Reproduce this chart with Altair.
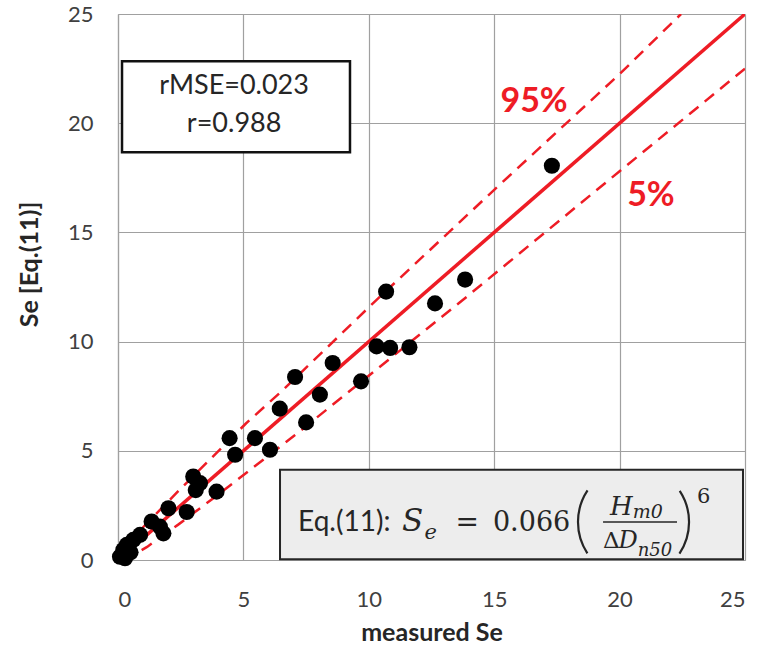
import altair as alt
import pandas as pd

# ---- data ----
measured = [17.3, 13.84, 12.64, 10.69, 10.31, 10.85, 11.62, 9.69, 8.56, 7.06, 8.05, 6.45,
            7.5, 6.06, 5.46, 4.45, 4.67, 3.0, 3.27, 3.93, 3.1, 2.74, 2.01, 1.34, 1.67,
            1.81, 0.88, 0.61, 0.35, 0.21, 0.08, 0.28, 0.5]
predicted = [18.05, 12.84, 11.75, 12.29, 9.78, 9.71, 9.74, 8.18, 9.02, 8.38, 7.57, 6.93,
             6.3, 5.05, 5.58, 5.58, 4.82, 3.82, 3.52, 3.13, 3.2, 2.2, 2.37, 1.76, 1.53,
             1.22, 1.15, 0.92, 0.69, 0.46, 0.15, 0.08, 0.35]

line_x = [0, 25]
line_y = [0, 25]
upper_x = [0, 0.3, 1.0, 2.4, 5.1, 6.5, 10.3, 15.0, 20.0, 22.45]
upper_y = [0, 0.55, 1.5, 3.15, 6.25, 7.7, 11.9, 16.95, 22.25, 25.0]
lower_x = [0.25, 0.6, 1.16, 2.4, 4.0, 7.06, 13.9, 20.0, 25.0]
lower_y = [0.0, 0.22, 0.6, 1.62, 3.0, 5.72, 12.05, 17.8, 22.5]

ticks = [0, 5, 10, 15, 20, 25]

RED = "#EE1C25"
FONT = "Lato"
MATH = "DejaVu Serif"
GRID = "#A0A0A0"
INK = "#262626"

xs = alt.Scale(domain=[0, 25], nice=False)
ys = alt.Scale(domain=[0, 25], nice=False)

x_axis = alt.Axis(
    values=ticks, title="measured Se", grid=True, gridColor=GRID, gridWidth=1.2,
    domainColor=GRID, domainWidth=1.2, ticks=False, labelFont=FONT, labelFontSize=22,
    labelColor="#404040", labelPadding=29, titleFont=FONT, titleFontSize=25,
    titleFontWeight="bold", titleColor=INK, titleY=72, titleBaseline="middle")
y_axis = alt.Axis(
    values=ticks, title="Se [Eq.(11)]", grid=True, gridColor=GRID, gridWidth=1.2,
    domainColor=GRID, domainWidth=1.2, ticks=False, labelFont=FONT, labelFontSize=22,
    labelColor="#404040", labelPadding=25, titleFont=FONT, titleFontSize=25,
    titleFontWeight="bold", titleColor=INK, titleX=-89, titleY=250,
    titleAngle=270, titleAlign="center", titleBaseline="middle")


def X(field="x"):
    return alt.X(f"{field}:Q", scale=xs, axis=x_axis)


def Y(field="y"):
    return alt.Y(f"{field}:Q", scale=ys, axis=y_axis)


# boxes
box1 = alt.Chart(pd.DataFrame({"x": [0.16], "x2": [9.25], "y": [18.67], "y2": [22.84]})).mark_rect(
    fill="white", stroke="#111111", strokeWidth=2.5).encode(x=X(), x2="x2:Q", y=Y(), y2="y2:Q")
box2 = alt.Chart(pd.DataFrame({"x": [6.46], "x2": [24.92], "y": [0.03], "y2": [4.13]})).mark_rect(
    fill="#EDEDED", stroke=INK, strokeWidth=2).encode(x=X(), x2="x2:Q", y=Y(), y2="y2:Q")

# lines
one = alt.Chart(pd.DataFrame({"x": line_x, "y": line_y})).mark_line(
    color=RED, strokeWidth=3.5, clip=True).encode(x=X(), y=Y())
up = alt.Chart(pd.DataFrame({"x": upper_x, "y": upper_y})).mark_line(
    color=RED, strokeWidth=2.5, strokeDash=[12, 8], clip=True).encode(x=X(), y=Y(), order="x:Q")
lo = alt.Chart(pd.DataFrame({"x": lower_x, "y": lower_y})).mark_line(
    color=RED, strokeWidth=2.5, strokeDash=[12, 8], clip=True).encode(x=X(), y=Y(), order="x:Q")

pts = alt.Chart(pd.DataFrame({"x": measured, "y": predicted})).mark_circle(
    color="black", size=260, opacity=1).encode(x=X(), y=Y())


def label(txt, x, y, **mk):
    df = pd.DataFrame({"x": [x], "y": [y], "t": [txt]})
    return alt.Chart(df).mark_text(**mk).encode(x=X(), y=Y(), text="t:N")


texts = [
    label("95%", 16.59, 20.96, font=FONT, fontSize=34, fontWeight="bold", color=RED,
          align="center", baseline="middle"),
    label("5%", 21.25, 16.65, font=FONT, fontSize=34, fontWeight="bold", color=RED,
          align="center", baseline="middle"),
    label("rMSE=0.023", 4.63, 21.7, font=FONT, fontSize=27, color=INK,
          align="center", baseline="middle"),
    label("r=0.988", 4.63, 19.95, font=FONT, fontSize=27, color=INK,
          align="center", baseline="middle"),
    # equation
    label("Eq.(11):", 7.18, 1.33, font=FONT, fontSize=28, color=INK,
          align="left", baseline="alphabetic"),
    label("S", 11.32, 1.33, font=MATH, fontSize=31, fontStyle="italic", color=INK,
          align="left", baseline="alphabetic"),
    label("e", 12.22, 0.98, font=MATH, fontSize=21, fontStyle="italic", color=INK,
          align="left", baseline="alphabetic"),
    label("=", 13.92, 1.33, font=MATH, fontSize=28, color=INK,
          align="center", baseline="alphabetic"),
    label("0.066", 14.95, 1.33, font=MATH, fontSize=27, color=INK,
          align="left", baseline="alphabetic"),
    label("H", 19.62, 2.06, font=MATH, fontSize=26, fontStyle="italic", color=INK,
          align="left", baseline="alphabetic"),
    label("m0", 20.52, 1.93, font=MATH, fontSize=19, fontStyle="italic", color=INK,
          align="left", baseline="alphabetic"),
    label("Δ", 19.34, 0.55, font=MATH, fontSize=23, color=INK,
          align="left", baseline="alphabetic"),
    label("D", 19.96, 0.55, font=MATH, fontSize=24, fontStyle="italic", color=INK,
          align="left", baseline="alphabetic"),
    label("n50", 20.72, 0.2, font=MATH, fontSize=18, fontStyle="italic", color=INK,
          align="left", baseline="alphabetic"),
    label("6", 23.09, 2.61, font=MATH, fontSize=21, color=INK,
          align="left", baseline="alphabetic"),
]

frac = alt.Chart(pd.DataFrame({"x": [19.34], "x2": [22.29], "y": [1.74]})).mark_rule(
    color=INK, strokeWidth=1.5).encode(x=X(), x2="x2:Q", y=Y())

# thin parentheses drawn as arcs around a centre point
paren_l = alt.Chart(pd.DataFrame({"x": [20.61], "y": [1.74]})).mark_arc(
    radius=58, radius2=55.8, theta=4.13, theta2=5.30, color=INK).encode(x=X(), y=Y())
paren_r = alt.Chart(pd.DataFrame({"x": [20.5], "y": [1.74]})).mark_arc(
    radius=58, radius2=55.8, theta=0.99, theta2=2.16, color=INK).encode(x=X(), y=Y())

chart = alt.layer(box1, box2, one, up, lo, pts, frac, paren_l, paren_r, *texts).properties(
    width=627, height=546,
    autosize=alt.AutoSizeParams(type="none"),
    padding={"left": 118, "top": 14, "right": 19, "bottom": 91},
).configure_view(stroke=GRID, strokeWidth=1.2).configure(background="white")

chart.save("out.html", embed_options={"renderer": "svg", "actions": False})
